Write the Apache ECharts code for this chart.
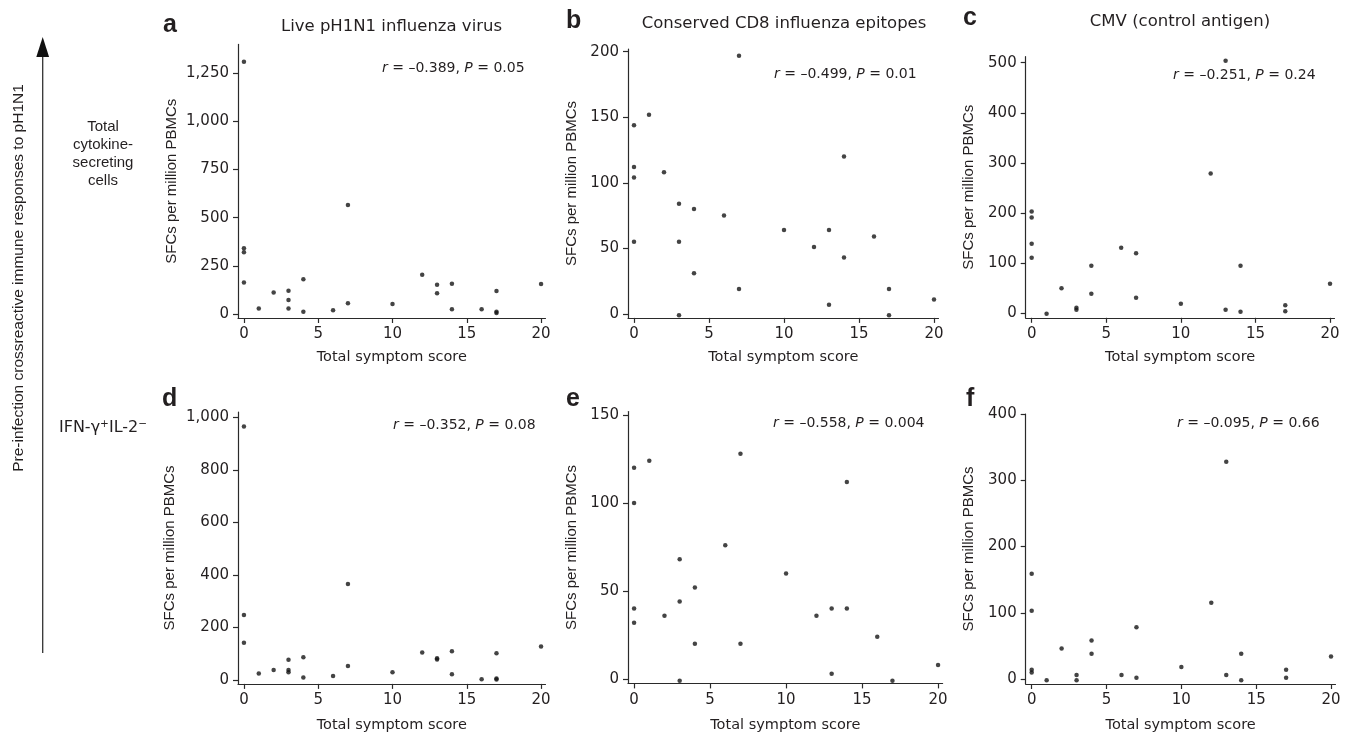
<!DOCTYPE html>
<html>
<head>
<meta charset="utf-8">
<script src="https://cdn.jsdelivr.net/npm/echarts@6/dist/echarts.min.js"></script>
<style>
html,body{margin:0;padding:0;background:#fff;}
#chart{width:1349px;height:736px;}
</style>
</head>
<body>
<div id="chart"></div>
<script>
// ---------- data ----------
const panelTitles = ['Live pH1N1 influenza virus', 'Conserved CD8 influenza epitopes', 'CMV (control antigen)'];
const panelLetters = ['a', 'b', 'c', 'd', 'e', 'f'];
const statsR = ['–0.389', '–0.499', '–0.251', '–0.352', '–0.558', '–0.095'];
const statsP = ['0.05', '0.01', '0.24', '0.08', '0.004', '0.66'];
const xTicks = [0, 5, 10, 15, 20];
const yTicksA = [0, 250, 500, 750, 1000, 1250];
const yTicksB = [0, 50, 100, 150, 200];
const yTicksC = [0, 100, 200, 300, 400, 500];
const yTicksD = [0, 200, 400, 600, 800, 1000];
const yTicksE = [0, 50, 100, 150];
const yTicksF = [0, 100, 200, 300, 400];

const aX = [0, 0, 0, 0, 1, 2, 3, 3, 3, 4, 4, 6, 7, 7, 10, 12, 13, 13, 14, 14, 16, 17, 17, 17, 20];
const aY = [1310, 341, 320, 164, 28, 112, 121, 73, 28, 180, 12, 19, 566, 55, 52, 204, 152, 107, 157, 24, 24, 119, 12, 5, 155];

const bX = [7, 1, 0, 0, 0, 2, 3, 4, 6, 0, 3, 4, 7, 3, 10, 12, 13, 13, 14, 14, 16, 17, 17, 20];
const bY = [197, 152, 144, 112, 104, 108, 84, 80, 75, 55, 55, 31, 19, -1, 64, 51, 64, 7, 120, 43, 59, 19, -1, 11];

const cX = [13, 12, 0, 0, 0, 0, 1, 2, 3, 3, 4, 4, 6, 7, 7, 10, 13, 14, 14, 17, 17, 20];
const cY = [504, 279, 203, 191, 139, 111, -1, 50, 11, 7, 95, 39, 131, 120, 31, 19, 7, 95, 3, 16, 4, 59];

const dX = [0, 0, 0, 1, 2, 3, 3, 3, 4, 4, 6, 7, 7, 10, 12, 13, 13, 14, 14, 16, 17, 17, 17, 20];
const dY = [965, 247, 142, 25, 38, 77, 38, 29, 86, 9, 15, 365, 53, 29, 105, 83, 78, 109, 22, 3, 102, 6, 2, 127];

const eX = [0, 1, 7, 0, 14, 6, 3, 10, 4, 3, 0, 0, 2, 12, 13, 14, 4, 7, 16, 13, 3, 17, 20];
const eY = [120, 124, 128, 100, 112, 76, 68, 60, 52, 44, 40, 32, 36, 36, 40, 40, 20, 20, 24, 3, -1, -1, 8];

const fX = [13, 0, 0, 12, 7, 4, 4, 2, 0, 0, 1, 3, 3, 6, 7, 10, 13, 14, 14, 17, 17, 20];
const fY = [328, 159, 103, 115, 78, 58, 38, 46, 14, 10, -2, 6, -2, 6, 2, 18, 6, 38, -2, 14, 2, 34];

// ---------- layout ----------
const TXT = '#231f20';
const FONT = '"Liberation Sans", Arial, Helvetica, sans-serif';
const WIDE = '"DejaVu Sans", "Liberation Sans", Arial, sans-serif';
const AX = '#2a2a2a';

const panels = [
  {xs: aX, ys: aY, ticks: yTicksA, left: 238, width: 307.5, top: 44.4, height: 273.6, ymin: -21, ymax: 1400, gap: 59},
  {xs: bX, ys: bY, ticks: yTicksB, left: 628, width: 310.5, top: 49.1, height: 268.8, ymin: -3, ymax: 202, gap: 49},
  {xs: cX, ys: cY, ticks: yTicksC, left: 1025.7, width: 308.8, top: 56.7, height: 261.1, ymin: -9, ymax: 512, gap: 49},
  {xs: dX, ys: dY, ticks: yTicksD, left: 238, width: 307.5, top: 412.0, height: 271.9, ymin: -15, ymax: 1020, gap: 61},
  {xs: eX, ys: eY, ticks: yTicksE, left: 628, width: 314.6, top: 411.5, height: 271.9, ymin: -2.5, ymax: 152, gap: 49},
  {xs: fX, ys: fY, ticks: yTicksF, left: 1025.7, width: 309.8, top: 414.0, height: 270.0, ymin: -7.5, ymax: 400, gap: 49}
];

const fmt = v => Number(v).toLocaleString('en-US');

const grids = [], xAxes = [], yAxes = [], series = [];
panels.forEach((p, i) => {
  grids.push({left: p.left, top: p.top, width: p.width, height: p.height, containLabel: false, outerBoundsMode: 'none'});
  xAxes.push({
    gridIndex: i, type: 'value', min: -0.4, max: 20.3,
    axisLine: {show: true, onZero: false, lineStyle: {color: AX, width: 1.2}},
    axisTick: {show: true, length: 5, customValues: xTicks, lineStyle: {color: AX, width: 1.2}},
    axisLabel: {customValues: xTicks, margin: 9, fontSize: 15, color: TXT, fontFamily: WIDE, formatter: fmt},
    splitLine: {show: false},
    name: 'Total symptom score', nameLocation: 'middle', nameGap: i < 3 ? 32 : 34,
    nameTextStyle: {fontSize: 14.5, color: TXT, fontFamily: WIDE}
  });
  yAxes.push({
    gridIndex: i, type: 'value', min: p.ymin, max: p.ymax,
    axisLine: {show: true, onZero: false, lineStyle: {color: AX, width: 1.2}},
    axisTick: {show: true, length: 5, customValues: p.ticks, lineStyle: {color: AX, width: 1.2}},
    axisLabel: {customValues: p.ticks, margin: 9, fontSize: 15, color: TXT, fontFamily: WIDE, formatter: fmt},
    splitLine: {show: false},
    name: 'SFCs per million PBMCs', nameLocation: 'middle', nameGap: p.gap, nameRotate: 90,
    nameTextStyle: {fontSize: 15, color: TXT, fontFamily: FONT}
  });
  series.push({
    type: 'scatter', xAxisIndex: i, yAxisIndex: i,
    data: p.xs.map((x, k) => [x, p.ys[k]]),
    symbol: 'circle', symbolSize: 4.5,
    itemStyle: {color: '#151515'},
    silent: true, animation: false
  });
});

// ---------- annotations ----------
const titlePos = [[391.5, 27], [784, 24], [1180, 22]];
const letterPos = [[163, 25], [566, 21], [963, 18], [162, 399], [566, 399], [966, 399]];
const statPos = [[382, 68], [774, 74], [1173, 75], [393, 425], [773, 423], [1177, 423]];

const graphics = [];
panelTitles.forEach((t, i) => {
  graphics.push({type: 'text', x: titlePos[i][0], y: titlePos[i][1],
    style: {text: t, fill: TXT, font: '16.5px ' + WIDE, align: 'center', verticalAlign: 'middle'}});
});
panelLetters.forEach((t, i) => {
  graphics.push({type: 'text', x: letterPos[i][0], y: letterPos[i][1],
    style: {text: t, fill: TXT, font: 'bold 25px ' + FONT, align: 'left', verticalAlign: 'middle'}});
});
statsR.forEach((r, i) => {
  graphics.push({type: 'text', x: statPos[i][0], y: statPos[i][1],
    style: {
      text: '{i|r} = ' + r + ', {i|P} = ' + statsP[i],
      fill: TXT, font: '14px ' + WIDE, align: 'left', verticalAlign: 'middle',
      rich: {i: {fontStyle: 'italic', fontSize: 14, fontFamily: WIDE, fill: TXT}}
    }});
});

// left arrow + labels
graphics.push({type: 'line', shape: {x1: 42.7, y1: 653, x2: 42.7, y2: 55}, style: {stroke: '#333', lineWidth: 1.3}});
graphics.push({type: 'polygon', shape: {points: [[36.3, 57], [49.1, 57], [42.7, 37]]}, style: {fill: '#111'}});
graphics.push({type: 'text', x: 19, y: 278, rotation: Math.PI / 2,
  style: {text: 'Pre-infection crossreactive immune responses to pH1N1', fill: TXT, font: '15.5px ' + FONT, align: 'center', verticalAlign: 'middle'}});
graphics.push({type: 'text', x: 103, y: 154,
  style: {text: 'Total\ncytokine-\nsecreting\ncells', fill: TXT, font: '15px ' + FONT, align: 'center', verticalAlign: 'middle', lineHeight: 18}});
graphics.push({type: 'text', x: 103, y: 428,
  style: {text: 'IFN-γ{s|+}IL-2{s|−}', fill: TXT, font: '16px ' + WIDE, align: 'center', verticalAlign: 'middle',
    rich: {s: {fontSize: 10.5, fontFamily: WIDE, fill: TXT, verticalAlign: 'top', padding: [0, 0, 8, 0]}}}});

const chart = echarts.init(document.getElementById('chart'), null, {renderer: 'canvas'});
chart.setOption({
  animation: false,
  backgroundColor: '#ffffff',
  textStyle: {fontFamily: FONT},
  grid: grids, xAxis: xAxes, yAxis: yAxes, series: series,
  graphic: graphics
});
</script>
</body>
</html>
